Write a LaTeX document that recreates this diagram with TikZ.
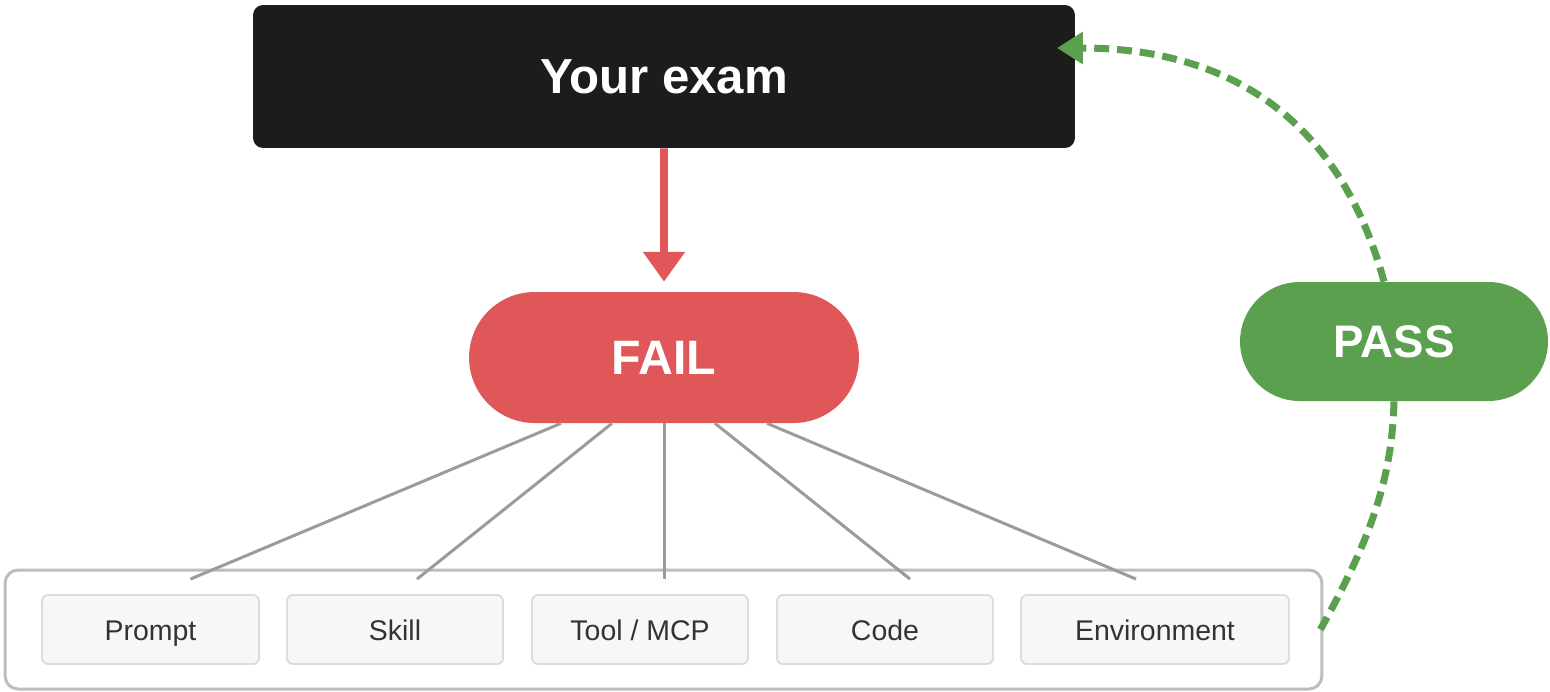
\documentclass[tikz,border=0pt]{standalone}
\usepackage{fontspec}
\setmainfont{Liberation Sans}
\usetikzlibrary{arrows.meta,shapes.misc}
\definecolor{examink}{HTML}{1C1C1C}
\definecolor{failred}{HTML}{E0575A}
\definecolor{passgreen}{HTML}{5AA04E}
\definecolor{wire}{HTML}{9B9B9B}
\definecolor{frame}{HTML}{BDBDBD}
\definecolor{chipfill}{HTML}{F6F7F9}
\definecolor{chipline}{HTML}{DCDCDC}
\definecolor{chiptext}{HTML}{333333}

\begin{document}
\begin{tikzpicture}[x=0.02cm, y=-0.02cm,
    pill/.style={rounded rectangle, inner sep=0pt, text=white},
    chip/.style={draw=chipline, line width=1.1pt, fill=chipfill, rounded corners=0.12cm,
      minimum height=1.38cm, inner sep=0pt, text=chiptext, text height=15.2pt, text depth=3.2pt,
      font=\fontsize{16.2}{19}\selectfont},
    branch/.style={wire, line width=1.7pt},
    loopback/.style={passgreen, line width=4pt, dash pattern=on 8.5pt off 4.5pt}]
  \useasboundingbox (0,0) rectangle (1550,691);
  % exam box and the two outcomes
  \node[fill=examink, rounded corners=0.2cm, minimum width=16.44cm, minimum height=2.86cm,
    text=white, font=\bfseries\fontsize{28}{33}\selectfont] (exam) at (664,76.5) {Your exam};
  \node[pill, fill=failred, minimum width=7.8cm, minimum height=2.62cm,
    font=\bfseries\fontsize{27.5}{32}\selectfont] (fail) at (664,357.5) {FAIL};
  \node[pill, fill=passgreen, minimum width=6.16cm, minimum height=2.38cm,
    font=\bfseries\fontsize{26}{30}\selectfont] (pass) at (1394,341.5) {PASS};
  \draw[failred, line width=4.5pt, -{Triangle[length=17pt, width=23pt]}, shorten >=5.7pt]
    (exam) -- (fail);
  % the things one can change
  \node[draw=frame, line width=1.7pt, fill=white, rounded corners=0.26cm,
    minimum width=26.34cm, minimum height=2.38cm] (knobs) at (663.5,629.5) {};
  \node[chip, minimum width=4.34cm] (prompt) at (150.5,629.5) {Prompt};
  \node[chip, minimum width=4.32cm] (skill) at (395,629.5) {Skill};
  \node[chip, minimum width=4.32cm] (tool) at (640,629.5) {Tool / MCP};
  \node[chip, minimum width=4.32cm] (code) at (885,629.5) {Code};
  \node[chip, minimum width=5.36cm] (env) at (1155,629.5) {Environment};
  \foreach \n/\a/\b in {prompt/-103/40, skill/-52/22, tool/0/24, code/51/25, env/103/-19}
    \draw[branch] ([shift={(\a,0)}]fail.south) -- ([shift={(\b,-15)}]\n.north);
  % retry loop
  \coordinate (retry) at (1057,48);
  \draw[loopback, -{Triangle[length=14.7pt, width=17.6pt]}]
    ([xshift=-0.2cm]pass.north) .. controls (1340,120) and (1230,48) .. (retry);
  \draw[loopback] (pass.south) .. controls (1392,480) and (1370,540) .. ([xshift=-0.06cm]knobs.east);
\end{tikzpicture}
\end{document}
